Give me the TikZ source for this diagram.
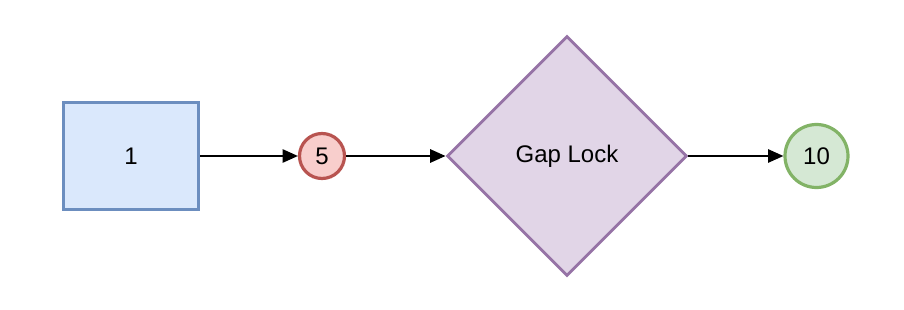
\documentclass[tikz,border=0pt]{standalone}
\usepackage{fontspec}
\setmainfont{Liberation Sans}
\usetikzlibrary{shapes.geometric,arrows.meta}
\definecolor{bluefill}{HTML}{DAE8FC}
\definecolor{bluedraw}{HTML}{6C8EBF}
\definecolor{redfill}{HTML}{F8CECC}
\definecolor{reddraw}{HTML}{B85450}
\definecolor{purpfill}{HTML}{E1D5E7}
\definecolor{purpdraw}{HTML}{9673A6}
\definecolor{greenfill}{HTML}{D5E8D4}
\definecolor{greendraw}{HTML}{82B366}
\tikzset{
  every node/.style={font=\fontsize{18}{20}\selectfont, inner sep=0pt},
  boxnode/.style={rectangle, draw=bluedraw, fill=bluefill, line width=2.4pt, minimum width=101.25pt, minimum height=80.25pt},
  smallcirc/.style={circle, draw=reddraw, fill=redfill, line width=2.4pt, minimum size=33.75pt},
  bigcirc/.style={circle, draw=greendraw, fill=greenfill, line width=2.4pt, minimum size=47.25pt},
  lockdiamond/.style={diamond, draw=purpdraw, fill=purpfill, line width=2.2pt, minimum width=180pt, minimum height=180pt},
  flow/.style={line width=1.3pt, -{Triangle[length=11.5pt,width=10pt]}}
}
\begin{document}
\begin{tikzpicture}[x=0.75pt,y=-0.75pt]
\useasboundingbox (0,0) rectangle (904,310);
\node[boxnode] (n1) at (131,156) {1};
\node[smallcirc] (n5) at (322,156) {5};
\node[lockdiamond] (gap) at (567,156) {Gap Lock};
\node[bigcirc] (n10) at (816.5,156) {10};
\draw[flow] (n1) -- (n5);
\draw[flow] (n5) -- (gap);
\draw[flow] (gap) -- (n10);
\end{tikzpicture}
\end{document}
